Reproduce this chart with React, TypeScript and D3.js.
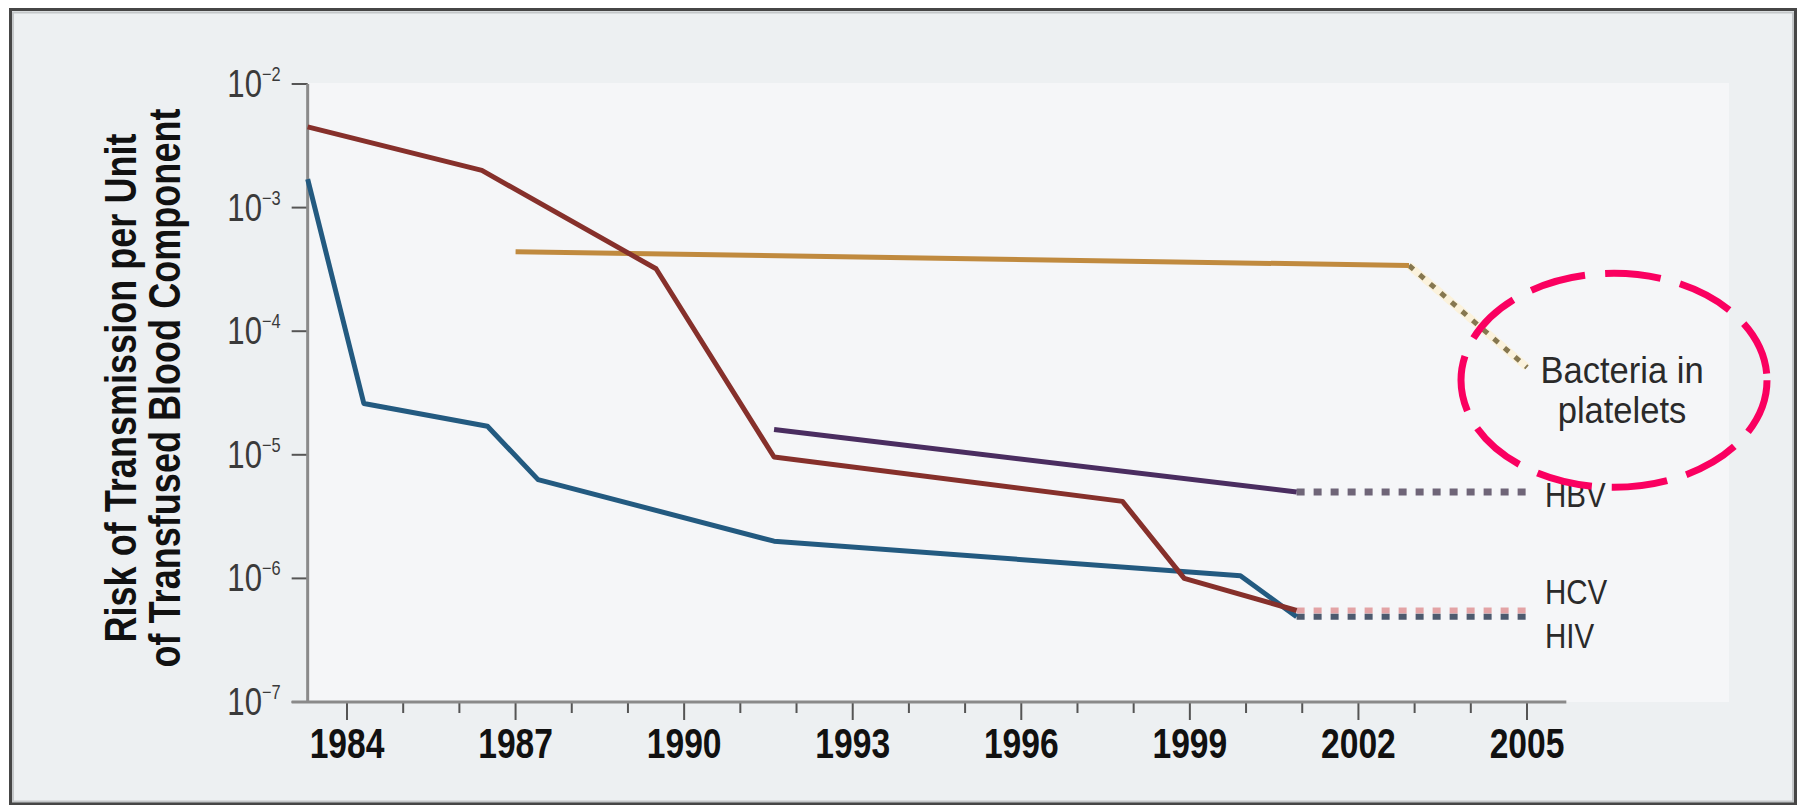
import React from "react";
import * as d3 from "d3";

const width = 1801;
const height = 806;

// axis ticks
const majorYears = [1984, 1987, 1990, 1993, 1996, 1999, 2002, 2005];
const minorYears = d3.range(1984, 2006);
const yExponents = [-2, -3, -4, -5, -6, -7];

// risk per unit
const hcvYears = [1983.3, 1986.4, 1989.5, 1991.6, 1997.8, 1998.9, 2000.9];
const hcvRisk = [4.5e-3, 2.0e-3, 3.2e-4, 9.6e-6, 4.2e-6, 1.0e-6, 5.5e-7];

const hivYears = [1983.3, 1984.3, 1986.5, 1987.4, 1991.6, 1999.9, 2000.9];
const hivRisk = [1.7e-3, 2.6e-5, 1.7e-5, 6.3e-6, 2.0e-6, 1.05e-6, 4.9e-7];

const hbvYears = [1991.6, 2000.9];
const hbvRisk = [1.6e-5, 5.0e-6];

const bactYears = [1987.0, 2002.9];
const bactRisk = [4.4e-4, 3.4e-4];

// projected (dotted) parts
const projYears = [2000.9, 2005];
const bactProjYears = [2002.9, 2005];
const bactProjRisk = [3.4e-4, 5.1e-5];

const seriesLabels = ["HBV", "HCV", "HIV"];
const bactLabel = ["Bacteria in", "platelets"];
const yTitle = ["Risk of Transmission per Unit", "of Transfused Blood Component"];

export default function App() {
  let x = d3.scaleLinear().domain([1984, 2005]).range([347, 1527]);
  let y = d3.scaleLog().domain([1e-7, 1e-2]).range([702, 84]);

  let axisStart = x(1983.3);
  let axisEnd = x(2005.7);
  let y0 = y(1e-7);

  let line = d3
    .line<[number, number]>()
    .x((d) => x(d[0]))
    .y((d) => y(d[1]));

  let zip = (a: number[], b: number[]) => a.map((v, i) => [v, b[i]] as [number, number]);

  let hcvEnd = hcvRisk[hcvRisk.length - 1];
  let hivEnd = hivRisk[hivRisk.length - 1];
  let hbvEnd = hbvRisk[hbvRisk.length - 1];

  let bx = x(bactProjYears[1]);
  let by = y(bactProjRisk[1]);

  let sans = "'Liberation Sans', Arial, sans-serif";

  return (
    <svg
      width={width}
      height={height}
      style={{ position: "absolute", left: 0, top: 0, display: "block", background: "#fff" }}
    >
      {/* frame */}
      <rect x={10.5} y={9.5} width={1785} height={794} fill="#edf0f2" stroke="#464646" strokeWidth={3} />
      <rect x={13} y={12.5} width={1780} height={789} fill="none" stroke="#c4c7c9" strokeWidth={2} />
      <rect x={axisStart} y={83} width={1729 - axisStart} height={y0 - 83} fill="#f5f6f8" />

      {/* y axis title */}
      {yTitle.map((t, i) => (
        <g key={t} transform={`translate(${136 + i * 44}, 388) rotate(-90) scale(0.82, 1)`}>
          <text textAnchor="middle" fontFamily={sans} fontWeight="bold" fontSize={44} fill="#111">
            {t}
          </text>
        </g>
      ))}

      {/* y ticks */}
      {yExponents.map((e) => (
        <g key={e}>
          <line x1={axisStart - 16} x2={axisStart} y1={y(Math.pow(10, e))} y2={y(Math.pow(10, e))} stroke="#555" strokeWidth={2} />
          <g transform={`translate(${axisStart - 27}, ${y(Math.pow(10, e)) + 13}) scale(0.82, 1)`}>
            <text textAnchor="end" fontFamily={sans} fontSize={38} fill="#3a3a3a">
              10
              <tspan fontSize={20} dy={-16}>
                {"\u2212" + Math.abs(e)}
              </tspan>
            </text>
          </g>
        </g>
      ))}

      {/* x ticks */}
      {minorYears.map((yr) => (
        <line
          key={yr}
          x1={x(yr)}
          x2={x(yr)}
          y1={y0}
          y2={y0 + (majorYears.includes(yr) ? 18 : 11)}
          stroke="#555"
          strokeWidth={2}
        />
      ))}
      {majorYears.map((yr) => (
        <g key={yr} transform={`translate(${x(yr)}, ${y0 + 56}) scale(0.8, 1)`}>
          <text textAnchor="middle" fontFamily={sans} fontWeight="bold" fontSize={42} fill="#111">
            {yr}
          </text>
        </g>
      ))}

      {/* axes */}
      <line x1={axisStart} x2={axisStart} y1={y(1e-2)} y2={y0} stroke="#8a8a8a" strokeWidth={3} />
      <line x1={axisStart - 16} x2={axisEnd} y1={y0} y2={y0} stroke="#8a8a8a" strokeWidth={3} />

      {/* projections */}
      <path d={line(zip(projYears, [hbvEnd, hbvEnd])) || ""} fill="none" stroke="#6f6578" strokeWidth={7} strokeDasharray="8 9" />
      <path d={line(zip(projYears, [hcvEnd, hcvEnd])) || ""} fill="none" stroke="#e3a3a5" strokeWidth={6} strokeDasharray="8 9" />
      <path d={line(zip(projYears, [hivEnd, hivEnd])) || ""} fill="none" stroke="#4d5a6e" strokeWidth={6} strokeDasharray="8 9" />
      <path d={line(zip(bactProjYears, bactProjRisk)) || ""} fill="none" stroke="#fbf2dc" strokeWidth={8} />
      <path d={line(zip(bactProjYears, bactProjRisk)) || ""} fill="none" stroke="#86774f" strokeWidth={5} strokeDasharray="6 8" />

      {/* series */}
      <path d={line(zip(bactYears, bactRisk)) || ""} fill="none" stroke="#c08a3f" strokeWidth={5} />
      <path d={line(zip(hbvYears, hbvRisk)) || ""} fill="none" stroke="#4a2d60" strokeWidth={5} strokeLinejoin="round" />
      <path d={line(zip(hivYears, hivRisk)) || ""} fill="none" stroke="#235a80" strokeWidth={5} strokeLinejoin="round" />
      <path d={line(zip(hcvYears, hcvRisk)) || ""} fill="none" stroke="#86302b" strokeWidth={5} strokeLinejoin="round" />

      {/* labels */}
      {seriesLabels.map((s, i) => {
        let v = [hbvEnd, hcvEnd, hivEnd][i];
        let dy = [15, -6, 31][i];
        return (
          <g key={s} transform={`translate(${x(2005) + 18}, ${y(v) + dy}) scale(0.82, 1)`}>
            <text fontFamily={sans} fontSize={36} fill="#2a2a2a">
              {s}
            </text>
          </g>
        );
      })}
      {bactLabel.map((s, i) => (
        <g key={s} transform={`translate(${bx + 95}, ${by + 16 + i * 40}) scale(0.96, 1)`}>
          <text textAnchor="middle" fontFamily={sans} fontSize={36} fill="#2a2a2a">
            {s}
          </text>
        </g>
      ))}

      {/* highlight */}
      <ellipse cx={bx + 87} cy={by + 13} rx={153} ry={107} fill="none" stroke="#fa0060" strokeWidth={7} strokeDasharray="56 20" />
    </svg>
  );
}
